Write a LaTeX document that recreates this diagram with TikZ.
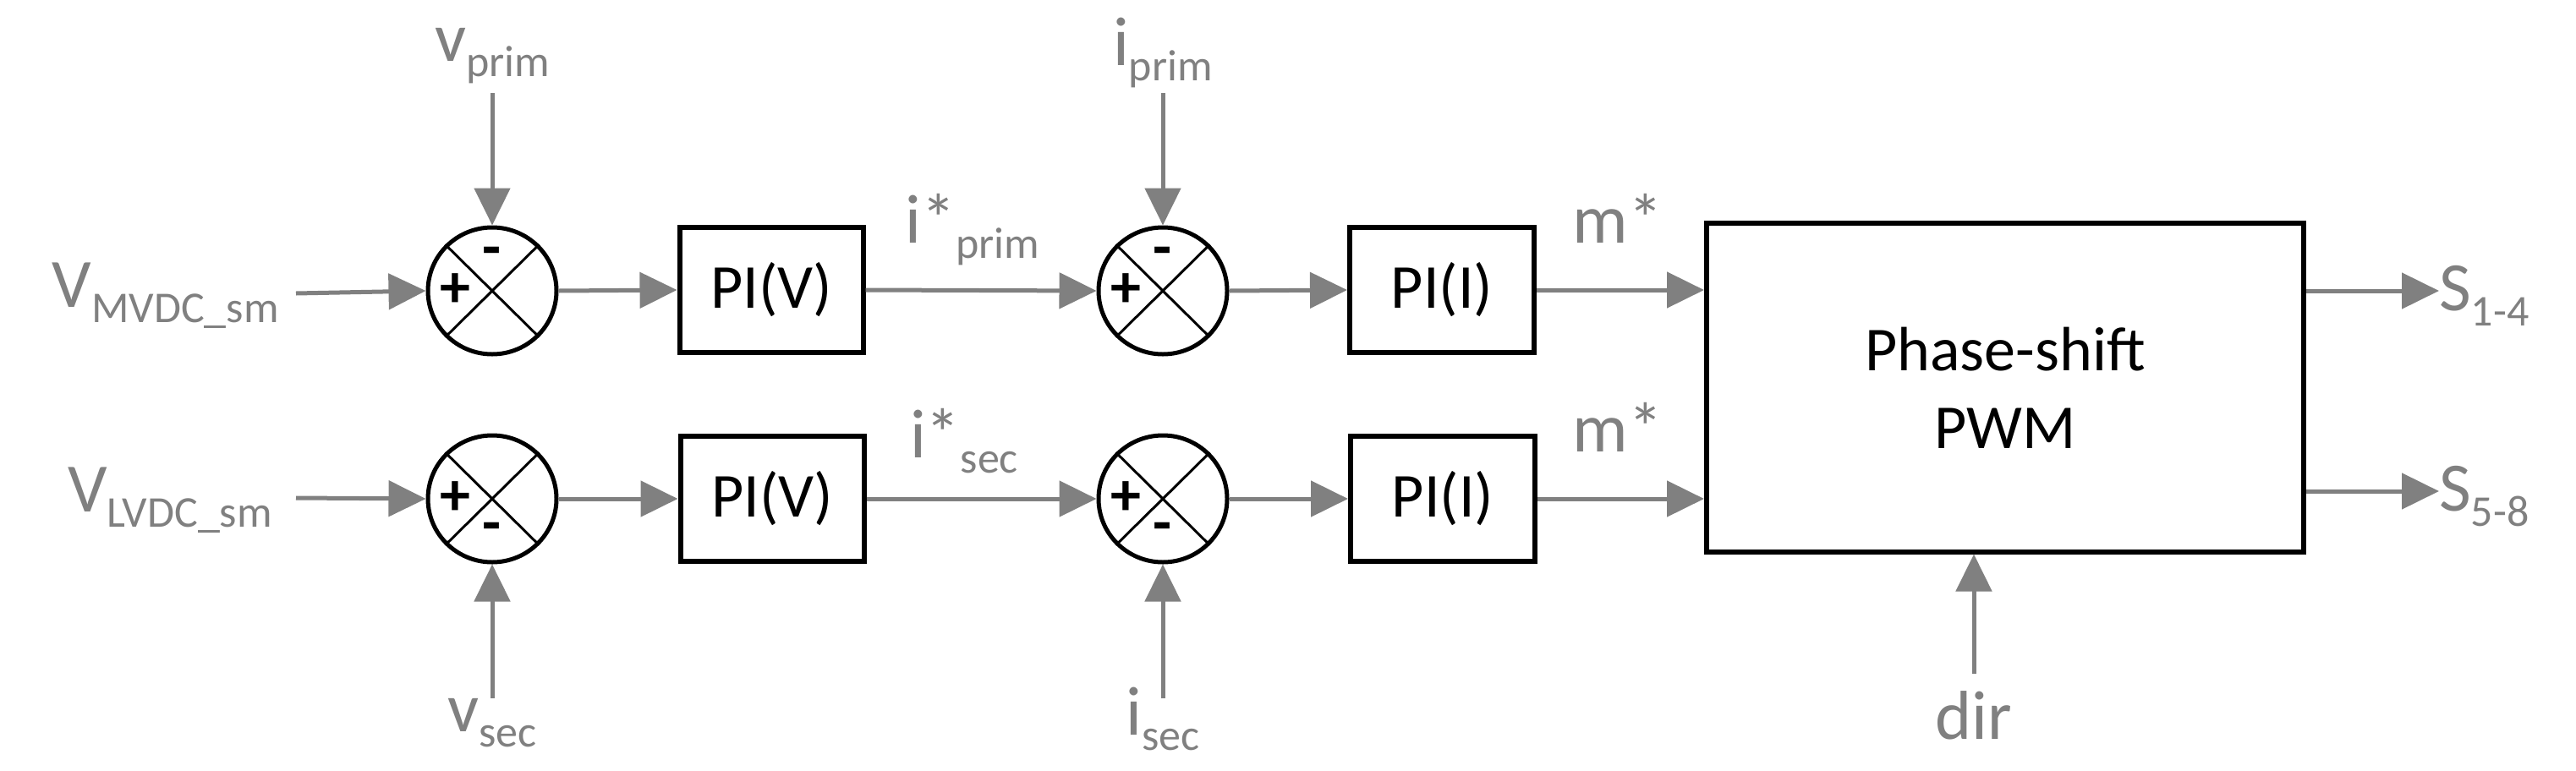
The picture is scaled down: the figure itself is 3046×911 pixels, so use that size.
\documentclass[tikz,border=0pt]{standalone}
\usepackage{fontspec}
\setmainfont{Carlito}
\usetikzlibrary{arrows.meta,shapes.geometric}
\definecolor{lg}{RGB}{128,128,128}
\newcommand\subx[1]{\raisebox{-0.22em}{\fontsize{52}{56}\selectfont #1}}
\begin{document}
\begin{tikzpicture}[x=1pt,y=-1pt,
  sig/.style={draw=lg,line width=5pt,-{Triangle[length=44pt,width=42pt]}},
  lab/.style={text=lg,font=\fontsize{82}{90}\selectfont,inner sep=0pt},
  blk/.style={draw,line width=6pt,font=\fontsize{74}{80}\selectfont,inner sep=0pt},
  sum/.style={draw,ellipse,line width=5pt,minimum width=152pt,minimum height=150pt,inner sep=0pt},
  sgn/.style={font=\fontsize{72}{76}\selectfont\bfseries,inner sep=0pt}]
\useasboundingbox (0,0) rectangle (3046,911);
% sums
\foreach \n/\x/\y in {s1/582/344,s2/582/590,s3/1375/344,s4/1375/590}{
  \node[sum] (\n) at (\x,\y) {};
  \draw[line width=3pt] (\n.north east) -- (\n.south west) (\n.north west) -- (\n.south east);
  \node[sgn] at ([xshift=-44pt]\n.center) {+};
}
\node[sgn] at ([yshift=40pt]s1.center) {-};
\node[sgn] at ([yshift=40pt]s3.center) {-};
\node[sgn] at ([yshift=-40pt]s2.center) {-};
\node[sgn] at ([yshift=-40pt]s4.center) {-};
% blocks
\node[blk,minimum width=217pt,minimum height=148pt] (pv1) at (912,343) {PI(V)};
\node[blk,minimum width=217pt,minimum height=148pt] (pv2) at (913,590) {PI(V)};
\node[blk,minimum width=218pt,minimum height=148pt] (pi1) at (1705,343) {PI(I)};
\node[blk,minimum width=218pt,minimum height=148pt] (pi2) at (1706,590) {PI(I)};
\node[blk,minimum width=706pt,minimum height=389pt] (pwm) at (2371,458) {};
\node[blk,draw=none,align=center,font=\fontsize{74}{92}\selectfont] at (2371,459) {Phase-shift\\PWM};
% labels
\node[lab,anchor=east] (vm) at (330,350) {V\subx{MVDC\_sm}};
\node[lab,anchor=east] (vl) at (322,592) {V\subx{LVDC\_sm}};
\node[lab] (vp) at (582,66) {v\subx{prim}};
\node[lab] (vs) at (582,855) {v\subx{sec}};
\node[lab] (ip) at (1375,62) {i\subx{prim}};
\node[lab] (is) at (1375,850) {i\subx{sec}};
\node[lab] at (1150,272) {i*\subx{prim}};
\node[lab] at (1140,522) {i*\subx{sec}};
\node[lab] at (1913,258) {m*};
\node[lab] at (1913,505) {m*};
\node[lab,anchor=west] (o1) at (2884,350) {S\subx{1-4}};
\node[lab,anchor=west] (o2) at (2884,587) {S\subx{5-8}};
\node[lab] (dir) at (2334,846) {dir};
% coordinates
\coordinate (a1) at (350,347); \coordinate (a2) at (350,589);
\coordinate (t1) at (582,110); \coordinate (t2) at (582,826);
\coordinate (t3) at (1375,110); \coordinate (t4) at (1375,826);
\coordinate (d0) at (2334,797);
% connectors
\draw[sig] (a1) -- (s1.west);
\draw[sig] (a2) -- (s2.west);
\draw[sig] (t1) -- (s1.north);
\draw[sig] (t2) -- (s2.south);
\draw[sig] (t3) -- (s3.north);
\draw[sig] (t4) -- (s4.south);
\draw[sig] (s1.east) -- (pv1.west);
\draw[sig] (s2.east) -- (pv2.west);
\draw[sig] (pv1.east) -- (s3.west);
\draw[sig] (pv2.east) -- (s4.west);
\draw[sig] (s3.east) -- (pi1.west);
\draw[sig] (s4.east) -- (pi2.west);
\draw[sig] (pi1.east) -- (pi1.east -| pwm.west);
\draw[sig] (pi2.east) -- (pi2.east -| pwm.west);
\draw[sig] (pwm.east |- 0,344) -- (o1.west |- 0,344);
\draw[sig] (pwm.east |- 0,581) -- (o2.west |- 0,581);
\draw[sig] (d0) -- (pwm.south -| d0);
\end{tikzpicture}
\end{document}
